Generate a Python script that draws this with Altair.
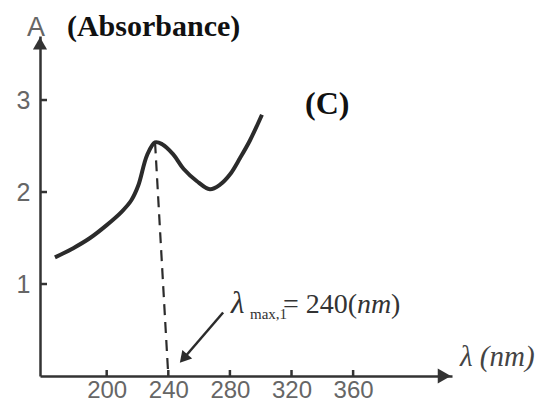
import altair as alt
import pandas as pd

# ---- data ----
wavelength = [166.4, 178.3, 189.2, 200.0, 210.0, 216.0, 220.5, 226.2, 231.4, 236.0,
              243.2, 250.0, 258.4, 267.0, 273.6, 280.0, 286.6, 293.0, 300.8]
absorbance = [1.29, 1.39, 1.50, 1.64, 1.79, 1.91, 2.07, 2.40, 2.54, 2.52,
              2.41, 2.25, 2.12, 2.03, 2.08, 2.19, 2.37, 2.56, 2.84]
x_ticks = [200, 240, 280, 320, 360]
y_ticks = [1, 2, 3]
drop_nm = [231.4, 240.0]
drop_A = [2.54, 0.0]
pointer_nm = [275.6, 249.9]
pointer_A = [0.69, 0.19]
x_range = [156.7, 424.2]
y_range = [0.0, 3.696]

curve = pd.DataFrame({"nm": wavelength, "A": absorbance})
drop = pd.DataFrame({"nm": drop_nm, "A": drop_A})
pointer = pd.DataFrame({"nm": pointer_nm, "A": pointer_A})
xt = pd.DataFrame({"nm": x_ticks, "A": [0] * len(x_ticks)})
yt = pd.DataFrame({"nm": [x_range[0]] * len(y_ticks), "A": y_ticks})

xaxis = alt.Axis(values=x_ticks, title=None, grid=False, ticks=False, tickSize=0,
                 labelFontSize=24, labelFont="Liberation Sans", labelColor="#666",
                 labelPadding=2, domainColor="#333", domainWidth=2.5, format="d",
                 labelFlush=False)
yaxis = alt.Axis(values=y_ticks, title=None, grid=False, ticks=False, tickSize=0,
                 labelFontSize=25, labelFont="Liberation Sans", labelColor="#666",
                 labelPadding=10, domainColor="#333", domainWidth=2.5, format="d")

X = alt.X("nm:Q", scale=alt.Scale(domain=x_range, nice=False, zero=False), axis=xaxis)
Y = alt.Y("A:Q", scale=alt.Scale(domain=y_range, nice=False, zero=False), axis=yaxis)

base_color = "#2b2b2b"

line = alt.Chart(curve).mark_line(color=base_color, strokeWidth=4,
                                  interpolate="catmull-rom").encode(x=X, y=Y)
dashed = alt.Chart(drop).mark_line(color=base_color, strokeWidth=2.2,
                                   strokeDash=[11, 7]).encode(x=X, y=Y)
arrow_line = alt.Chart(pointer).mark_line(color=base_color, strokeWidth=2.5).encode(x=X, y=Y)
arrow_head = alt.Chart(pointer.iloc[[1]]).mark_point(shape="triangle-up", filled=True,
                                                     size=170, angle=221, opacity=1,
                                                     color=base_color).encode(x=X, y=Y)

x_tick_marks = alt.Chart(xt).mark_rule(color="#333", strokeWidth=2.5).encode(
    x=X, y=alt.value(334), y2=alt.value(340))
y_tick_marks = alt.Chart(yt).mark_rule(color="#333", strokeWidth=2.5).encode(
    y=Y, x=alt.value(0), x2=alt.value(7))

x_head = alt.Chart(pd.DataFrame({"nm": [x_range[1] - 5], "A": [0]})).mark_point(
    shape="triangle-right", filled=True, size=230, opacity=1, color="#333").encode(x=X, y=Y)
y_head = alt.Chart(pd.DataFrame({"nm": [x_range[0]], "A": [y_range[1] - 0.08]})).mark_point(
    shape="triangle-up", filled=True, size=200, opacity=1, color="#333").encode(x=X, y=Y)


def label(nm, a, text, **kw):
    df = pd.DataFrame({"nm": [nm], "A": [a], "t": [text]})
    props = dict(align="left", baseline="alphabetic", font="Liberation Serif", color="#111")
    props.update(kw)
    return alt.Chart(df).mark_text(**props).encode(x=X, y=Y, text="t:N")


ann_nm, ann_A = 280.7, 0.685
texts = [
    label(154.1, 3.70, "A", align="center", font="Liberation Sans", fontSize=27, color="#666"),
    label(174.2, 3.70, "(Absorbance)", fontSize=30, fontWeight="bold"),
    label(328.8, 2.85, "(C)", fontSize=32, fontWeight="bold"),
    label(ann_nm, ann_A, "λ", fontSize=31, fontStyle="italic", color="#333"),
    label(ann_nm, ann_A, "max,1", fontSize=15, dx=19, dy=6, color="#333"),
    label(ann_nm, ann_A, "= 240(", fontSize=28, dx=52, color="#333"),
    label(ann_nm, ann_A, "nm", fontSize=28, dx=126, fontStyle="italic", color="#333"),
    label(ann_nm, ann_A, ")", fontSize=28, dx=160, color="#333"),
    label(429.4, 0.11, "λ (nm)", fontSize=29, fontStyle="italic", color="#444"),
]

chart = alt.layer(
    line, dashed, arrow_line, arrow_head, x_tick_marks, y_tick_marks, x_head, y_head, *texts
).properties(
    width=412, height=340,
    background="white",
    autosize=alt.AutoSizeParams(type="none"),
    padding={"left": 32, "top": 28, "right": 87, "bottom": 26},
).configure_view(stroke=None)

chart.save("out.html", embed_options={"renderer": "svg", "actions": False})
